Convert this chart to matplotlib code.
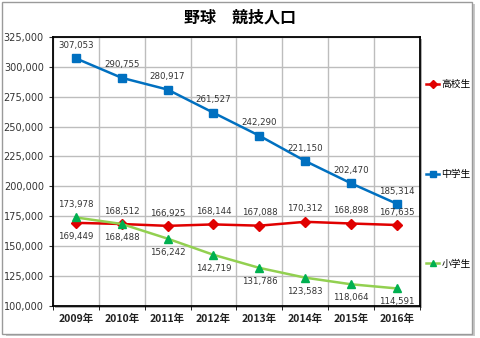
import matplotlib
matplotlib.use('Agg')
import matplotlib.pyplot as plt
from matplotlib.patches import Rectangle
import numpy as np

plt.rcParams['font.family'] = ['Noto Sans CJK JP', 'DejaVu Sans']

years = ['2009年', '2010年', '2011年', '2012年', '2013年', '2014年', '2015年', '2016年']
koukou = [169449, 168488, 166925, 168144, 167088, 170312, 168898, 167635]
chugaku = [307053, 290755, 280917, 261527, 242290, 221150, 202470, 185314]
shogaku = [173978, 168512, 156242, 142719, 131786, 123583, 118064, 114591]

# label placement: +1 above, -1 below
koukou_pos = [-1, -1, 1, 1, 1, 1, 1, 1]
chugaku_pos = [1] * 8
shogaku_pos = [1, 1, -1, -1, -1, -1, -1, -1]

fig = plt.figure(figsize=(4.8, 3.38), dpi=100)
# outer frame with shadow
fig.add_artist(Rectangle((0.012, 0.005), 0.978, 0.982, transform=fig.transFigure,
                         facecolor='#c8c8c8', edgecolor='none', zorder=-3))
fig.add_artist(Rectangle((0.005, 0.013), 0.978, 0.982, transform=fig.transFigure,
                         facecolor='white', edgecolor='#9a9a9a', lw=1.0, zorder=-2))

ax = fig.add_axes([0.110, 0.095, 0.765, 0.796])
# plot area shadow
fig.add_artist(Rectangle((0.114, 0.089), 0.765, 0.796, transform=fig.transFigure,
                         facecolor='#b0b0b0', edgecolor='none', zorder=-1))
ax.set_facecolor('white')

x = np.arange(len(years))
l1, = ax.plot(x, koukou, color='#e00000', lw=1.8, marker='D', ms=5.5,
              mfc='#e00000', mec='#e00000', zorder=4)
l2, = ax.plot(x, chugaku, color='#0070c0', lw=1.8, marker='s', ms=6,
              mfc='#0070c0', mec='#0070c0', zorder=4)
l3, = ax.plot(x, shogaku, color='#92d050', lw=1.8, marker='^', ms=6,
              mfc='#00b050', mec='#00b050', zorder=4)

for vals, pos in [(koukou, koukou_pos), (chugaku, chugaku_pos), (shogaku, shogaku_pos)]:
    for i, (v, p) in enumerate(zip(vals, pos)):
        ax.annotate(f'{v:,}', (x[i], v), xytext=(0, 6 if p > 0 else -6.5),
                    textcoords='offset points', ha='center',
                    va='bottom' if p > 0 else 'top', fontsize=6.2,
                    family=['DejaVu Sans'], color='#333333', zorder=5)

ax.set_xlim(-0.5, 7.5)
ax.set_ylim(100000, 325000)
ax.set_yticks(np.arange(100000, 325001, 25000))
ax.yaxis.set_major_formatter(matplotlib.ticker.FuncFormatter(lambda v, p: f'{int(v):,}'))
ax.set_xticks(x)
ax.set_xticklabels(years, fontsize=7.5, fontweight='bold', color='#222222')
ax.set_xticks(np.arange(-0.5, 8, 1), minor=True)
ax.tick_params(axis='y', labelsize=7, colors='#333333', length=3)
ax.tick_params(axis='x', which='major', length=0, pad=6)
ax.tick_params(axis='x', which='minor', length=3)
for lab in ax.get_yticklabels():
    lab.set_family(['DejaVu Sans'])
ax.grid(True, which='minor', axis='x', color='#bdbdbd', lw=1.0)
ax.grid(True, which='major', axis='y', color='#bdbdbd', lw=1.0)
ax.set_axisbelow(True)
for s in ax.spines.values():
    s.set_color('black')
    s.set_linewidth(1.3)

fig.text(0.5, 0.947, '野球　競技人口', fontsize=11.5, fontweight='bold',
         ha='center', va='center')

fig.legend([l1, l2, l3], ['高校生', '中学生', '小学生'], loc='upper left',
           bbox_to_anchor=(0.877, 0.78), frameon=False, fontsize=7,
           labelspacing=8.2, handlelength=1.4, handletextpad=0.2,
           borderpad=0, markerscale=0.8)

fig.savefig('out.png', dpi=100)
